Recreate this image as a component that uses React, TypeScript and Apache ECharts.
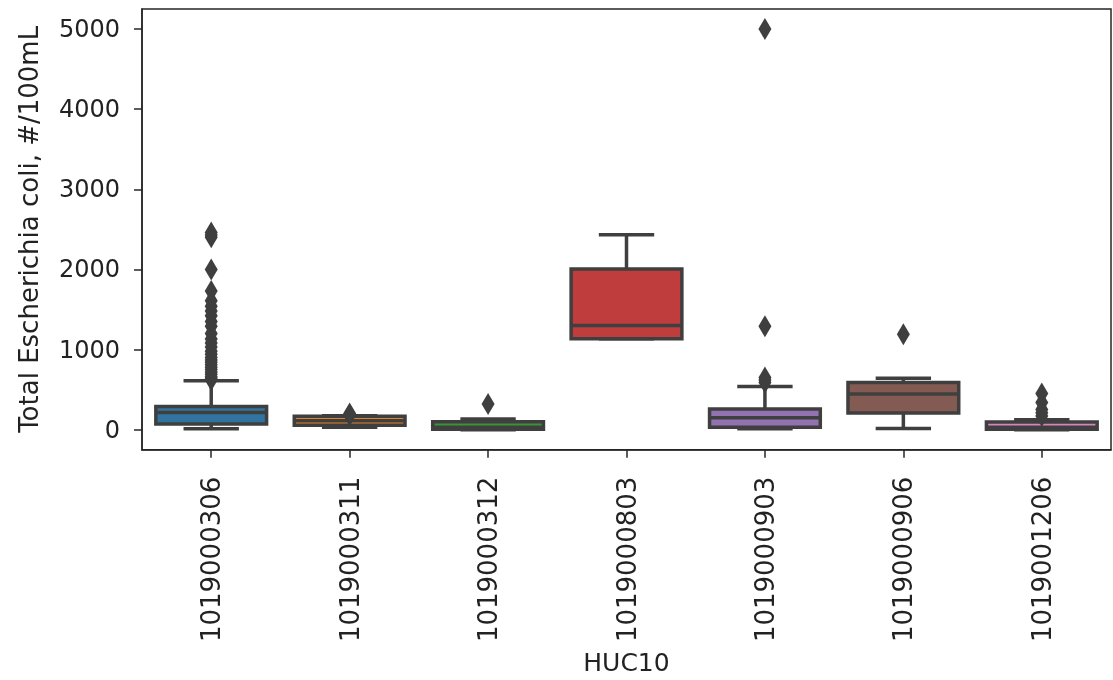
import React, { useEffect, useRef } from "react";
import * as echarts from "echarts";

const categories = [
  "1019000306",
  "1019000311",
  "1019000312",
  "1019000803",
  "1019000903",
  "1019000906",
  "1019001206",
];

const lowWhisker = [10, 30, 0, 1135, 10, 15, 0];
const q1 = [70, 55, 5, 1135, 30, 207, 5];
const medians = [215, 112, 30, 1300, 150, 445, 30];
const q3 = [290, 166, 100, 2005, 257, 589, 95];
const highWhisker = [609, 175, 133, 2431, 540, 640, 125];

const outliers0 = [620, 640, 660, 690, 720, 750, 780, 810, 840, 870, 900, 940, 980, 1030, 1080, 1130, 1200, 1290, 1350, 1420, 1480, 1540, 1610, 1730, 2000, 2400, 2430, 2460];
const outliers1 = [180, 190, 200];
const outliers2 = [320];
const outliers3: number[] = [];
const outliers4 = [590, 620, 650, 1290, 5000];
const outliers5 = [1190];
const outliers6 = [170, 210, 250, 340, 450];
const outlierLists = [outliers0, outliers1, outliers2, outliers3, outliers4, outliers5, outliers6];

const yTickValues = [0, 1000, 2000, 3000, 4000, 5000];

const boxColors = ["#3274a1", "#e1812c", "#3a923a", "#c03d3e", "#9372b2", "#845b53", "#d684bd"];
const LINE = "#3f3f3f";
const TEXT = "#222222";
const FONT = "DejaVu Sans";

export default function App() {
  const ref = useRef<HTMLDivElement>(null);
  useEffect(() => {
    if (!ref.current) return;
    const chart = echarts.init(ref.current, undefined, { renderer: "svg" });
    const boxData = categories.map((_, i) => [i, lowWhisker[i], q1[i], medians[i], q3[i], highWhisker[i]]);
    const outData: number[][] = [];
    outlierLists.forEach((list, i) => list.forEach((v) => outData.push([i, v])));

    chart.setOption({
      animation: false,
      grid: {
        left: 142,
        right: 2,
        top: 9,
        bottom: 230,
        show: true,
        borderColor: "#262626",
        borderWidth: 1.5,
        backgroundColor: "#fff",
      },
      xAxis: {
        type: "category",
        data: categories,
        boundaryGap: true,
        name: "HUC10",
        nameLocation: "middle",
        nameGap: 193,
        nameTextStyle: { fontSize: 25, color: TEXT, fontFamily: FONT },
        axisLine: { show: true, onZero: false, lineStyle: { color: "#262626", width: 1.5 } },
        axisTick: { show: true, alignWithLabel: true, length: 8, lineStyle: { color: "#262626", width: 1.5 } },
        axisLabel: { rotate: 90, fontSize: 26, color: TEXT, fontFamily: FONT, margin: 27, interval: 0 },
        splitLine: { show: false },
      },
      yAxis: {
        type: "value",
        min: -250,
        max: 5250,
        name: "Total Escherichia coli, #/100mL",
        nameLocation: "middle",
        nameGap: 100,
        nameTextStyle: { fontSize: 26, color: TEXT, fontFamily: FONT },
        axisLine: { show: true, lineStyle: { color: "#262626", width: 1.5 } },
        axisTick: { show: true, length: 8, customValues: yTickValues, lineStyle: { color: "#262626", width: 1.5 } },
        axisLabel: {
          fontSize: 24,
          color: TEXT,
          fontFamily: FONT,
          margin: 22,
          customValues: yTickValues,
          formatter: (v: number) => String(v),
        },
        splitLine: { show: false },
      },
      series: [
        {
          type: "custom",
          data: boxData,
          encode: { x: 0, y: [1, 2, 3, 4, 5] },
          z: 2,
          renderItem: (params: any, api: any) => {
            const idx = api.value(0);
            const pLow = api.coord([idx, api.value(1)]);
            const pQ1 = api.coord([idx, api.value(2)]);
            const pMed = api.coord([idx, api.value(3)]);
            const pQ3 = api.coord([idx, api.value(4)]);
            const pHigh = api.coord([idx, api.value(5)]);
            const bw = api.size([1, 0])[0] * 0.8;
            const half = bw / 2;
            const x = pLow[0];
            const ls = { stroke: LINE, lineWidth: 3.5 };
            return {
              type: "group",
              children: [
                { type: "line", shape: { x1: x, y1: pQ3[1], x2: x, y2: pHigh[1] }, style: ls },
                { type: "line", shape: { x1: x, y1: pQ1[1], x2: x, y2: pLow[1] }, style: ls },
                { type: "line", shape: { x1: x - bw / 4, y1: pHigh[1], x2: x + bw / 4, y2: pHigh[1] }, style: ls },
                { type: "line", shape: { x1: x - bw / 4, y1: pLow[1], x2: x + bw / 4, y2: pLow[1] }, style: ls },
                {
                  type: "rect",
                  shape: { x: x - half, y: pQ3[1], width: bw, height: pQ1[1] - pQ3[1] },
                  style: { fill: boxColors[idx], stroke: LINE, lineWidth: 3.5 },
                },
                { type: "line", shape: { x1: x - half, y1: pMed[1], x2: x + half, y2: pMed[1] }, style: ls },
              ],
            };
          },
        },
        {
          type: "scatter",
          data: outData,
          symbol: "diamond",
          symbolSize: [13, 22],
          itemStyle: { color: LINE, opacity: 1 },
          z: 3,
        },
      ],
    });
    return () => chart.dispose();
  }, []);
  return <div ref={ref} style={{ position: "fixed", left: 0, top: 0, width: 1113, height: 680 }} />;
}
